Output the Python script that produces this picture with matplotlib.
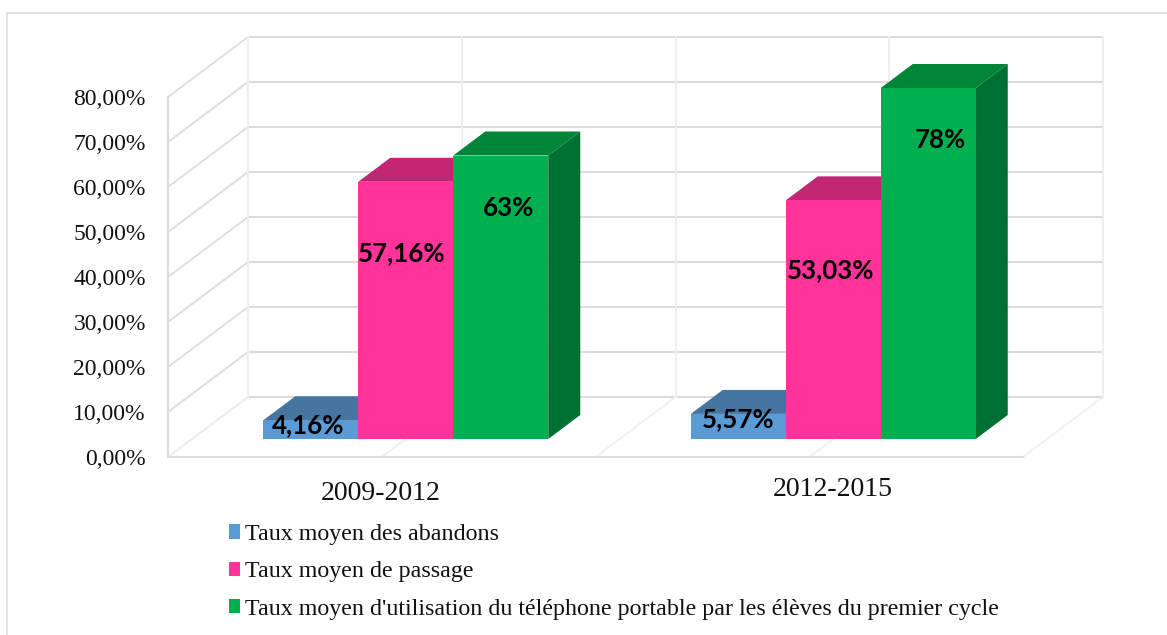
import matplotlib
matplotlib.use('Agg')
import matplotlib.pyplot as plt
from matplotlib.lines import Line2D
from matplotlib.patches import Patch, Polygon

categories = ['2009-2012', '2012-2015']
series_names = ['Taux moyen des abandons',
                'Taux moyen de passage',
                "Taux moyen d'utilisation du téléphone portable par les élèves du premier cycle"]
abandons = [4.16, 5.57]
passage = [57.16, 53.03]
telephone = [63, 78]
bar_labels = [['4,16%', '5,57%'], ['57,16%', '53,03%'], ['63%', '78%']]
y_ticks = [0, 10, 20, 30, 40, 50, 60, 70, 80]

W, H = 1167, 635
front = ['#5B9BD5', '#FF3399', '#00B050']
top = ['#4675A1', '#C02673', '#008539']
side = ['#3F6A92', '#A8215F', '#006F32']
grid_col = '#DCDCDC'
wall_col = '#EFEFEF'

# oblique depth of the chart box, in axis units
DX = 80 / 427.5
DY = 60 / 4.5
bar_w = 1 / 4.5
margin = 0.75 * bar_w

plt.rcParams['font.family'] = ['Liberation Serif', 'DejaVu Serif']
fig = plt.figure(figsize=(W / 100, H / 100), dpi=100)
ax = fig.add_axes([168 / W, (H - 457) / H, 855 / W, 360 / H])
ax.set_xlim(0, 2)
ax.set_ylim(0, 80)
ax.patch.set_visible(False)
for s in ['top', 'right']:
    ax.spines[s].set_visible(False)
for s in ['left', 'bottom']:
    ax.spines[s].set_color(grid_col)
    ax.spines[s].set_linewidth(1.5)

ax.set_yticks(y_ticks)
ax.set_yticklabels(['%d,00%%' % v for v in y_ticks], fontsize=17, color='#111111')
ax.tick_params(axis='y', length=0, pad=16)
ax.set_xticks([])

# walls and floor
for v in y_ticks:
    ax.plot([0, DX], [v, v + DY], color=grid_col, lw=1.3, clip_on=False, zorder=1)
    ax.plot([DX, 2 + DX], [v + DY, v + DY], color=grid_col, lw=1.5, clip_on=False, zorder=1)
for k in [0, 0.5, 1, 1.5, 2]:
    ax.plot([k, k + DX], [0, DY], color=wall_col, lw=1.3, clip_on=False, zorder=1)
    ax.plot([k + DX, k + DX], [DY, 80 + DY], color=wall_col, lw=1.5, clip_on=False, zorder=1)

# bars
values = [abandons, passage, telephone]
d0, d1 = 0.3, 0.7
label_off = [[(-3, -5), (0, -5)], [(-4, -71), (-3, -70)], [(8, -53), (12, -52)]]
for c in range(len(categories)):
    for i, vals in enumerate(values):
        v = vals[c]
        x0 = c + margin + i * bar_w + d0 * DX
        x1 = x0 + bar_w
        y0 = d0 * DY
        y1 = y0 + v
        ddx = (d1 - d0) * DX
        ddy = (d1 - d0) * DY
        z = 3 + i
        ax.add_patch(Polygon([(x1, y0), (x1 + ddx, y0 + ddy), (x1 + ddx, y1 + ddy), (x1, y1)],
                             facecolor=side[i], edgecolor='none', clip_on=False, zorder=z))
        ax.add_patch(Polygon([(x0, y1), (x1, y1), (x1 + ddx, y1 + ddy), (x0 + ddx, y1 + ddy)],
                             facecolor=top[i], edgecolor='none', clip_on=False, zorder=z))
        ax.add_patch(Polygon([(x0, y0), (x1, y0), (x1, y1), (x0, y1)],
                             facecolor=front[i], edgecolor='none', clip_on=False, zorder=z))
        off = label_off[i][c]
        ax.annotate(bar_labels[i][c], ((x0 + x1) / 2, y1), xytext=(off[0] * 0.72, off[1] * 0.72),
                    textcoords='offset points', ha='center', va='center', fontsize=18.6,
                    fontweight='bold', family='Lato', color='black', zorder=10,
                    annotation_clip=False)

# category labels
ax.annotate(categories[0], (0.5, 0), xytext=(-1 * 0.72, -36 * 0.72), textcoords='offset points',
            ha='center', va='center', fontsize=20, color='#111111', annotation_clip=False)
ax.annotate(categories[1], (1.5, 0), xytext=(23 * 0.72, -33 * 0.72), textcoords='offset points',
            ha='center', va='center', fontsize=20, color='#111111', annotation_clip=False)

handles = [Patch(facecolor=front[i], edgecolor='none') for i in range(3)]
fig.legend(handles, series_names, loc='upper left', bbox_to_anchor=(229 / W, 1 - 524 / H),
           frameon=False, fontsize=17.3, borderpad=0, borderaxespad=0, handlelength=0.46,
           handleheight=0.54, handletextpad=0.2, labelspacing=0.68, labelcolor='#111111')

# outer frame, no bottom or right edge in the picture
fig.add_artist(Line2D([6.5 / W, 6.5 / W, 1], [0, 1 - 13 / H, 1 - 13 / H], color='#DDDDDD', lw=1.1))

plt.savefig('out.png', dpi=100)
plt.close()
